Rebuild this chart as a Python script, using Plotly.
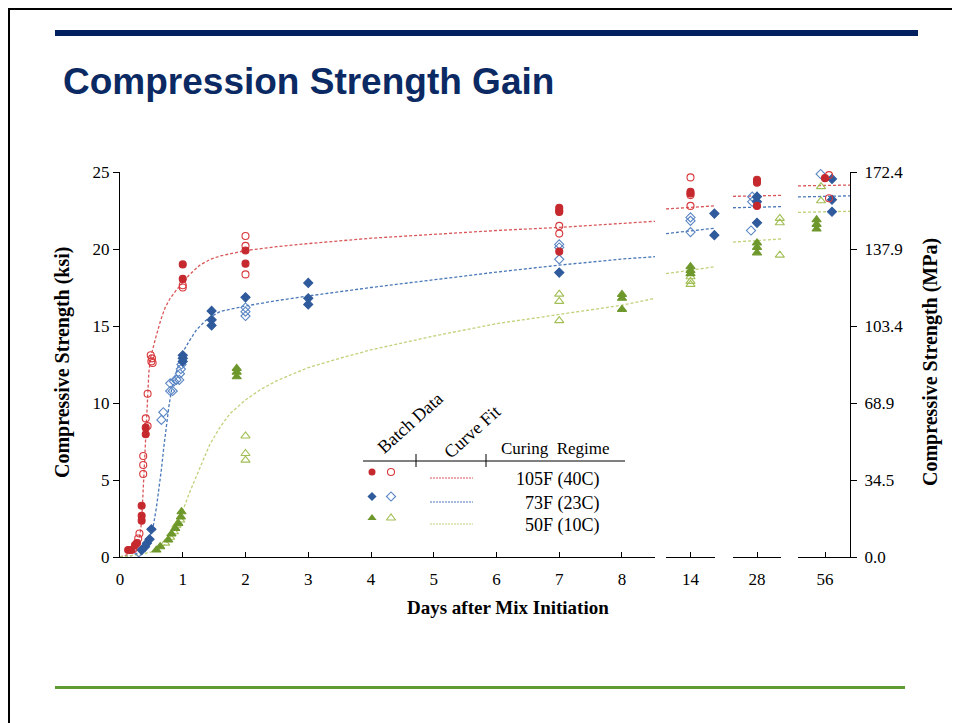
import plotly.graph_objects as go

# ---------------- data (days, ksi) ----------------
red_filled_x = [0.13, 0.18, 0.24, 0.27, 0.345, 0.345, 0.345, 0.41, 0.41, 1.0, 1.0, 2.0, 2.0, 7.0, 7.0, 7.0, 7.0]
red_filled_y = [0.45, 0.45, 0.78, 0.9, 2.36, 2.68, 3.33, 7.97, 8.4, 19.0, 18.06, 19.9, 19.05, 22.68, 22.5, 22.4, 19.83]
red_open_x = [0.21, 0.29, 0.31, 0.37, 0.37, 0.37, 0.44, 0.41, 0.44, 0.49, 0.51, 0.5, 0.52, 1.0, 1.0, 2.0, 2.0, 2.0, 7.0, 7.0]
red_open_y = [0.5, 1.2, 1.53, 5.39, 5.97, 6.56, 8.5, 9.0, 10.6, 13.1, 12.9, 12.7, 12.6, 17.65, 17.5, 20.84, 20.2, 18.35, 21.5, 21.0]

blue_filled_x = [0.345, 0.4, 0.43, 0.47, 0.5, 1.0, 1.0, 1.0, 1.46, 1.46, 1.46, 2.0, 3.0, 3.0, 3.0, 7.0]
blue_filled_y = [0.45, 0.67, 0.9, 1.15, 1.8, 13.1, 12.9, 12.7, 15.98, 15.4, 15.04, 16.86, 17.8, 16.8, 16.4, 18.47]
blue_open_x = [0.3, 0.66, 0.69, 0.80, 0.84, 0.80, 0.86, 0.90, 0.945, 0.955, 0.97, 0.98, 2.0, 2.0, 2.0, 7.0, 7.0, 7.0]
blue_open_y = [0.3, 8.9, 9.4, 10.78, 10.78, 11.28, 11.4, 11.5, 11.5, 11.9, 12.2, 12.5, 16.2, 15.93, 15.65, 20.3, 20.1, 19.33]

green_filled_x = [0.58, 0.64, 0.77, 0.82, 0.88, 0.93, 0.97, 0.98, 1.86, 1.86, 1.86, 8.0, 8.0, 8.0]
green_filled_y = [0.45, 0.67, 1.1, 1.5, 1.86, 2.18, 2.6, 2.94, 12.25, 12.0, 11.7, 17.05, 16.8, 16.08]
green_open_x = [0.72, 0.80, 0.86, 0.90, 0.96, 2.0, 2.0, 2.0, 7.0, 7.0, 7.0]
green_open_y = [0.9, 1.28, 1.64, 2.07, 2.4, 7.86, 6.72, 6.29, 17.07, 16.6, 15.35]

# later ages (broken axis segments)
red_filled_14 = ([14, 14], [23.72, 23.6])
red_open_14 = ([14, 14, 14], [24.65, 23.5, 22.8])
blue_filled_14 = ([17.9, 17.9], [22.3, 20.9])
blue_open_14 = ([14, 14, 14], [22.05, 21.83, 21.1])
green_filled_14 = ([14, 14, 14], [18.85, 18.6, 18.4])
green_open_14 = ([14, 14, 14], [18.2, 17.9, 17.7])

red_filled_28 = ([28, 28, 28], [24.5, 24.3, 22.8])
blue_filled_28 = ([28, 28, 28], [23.4, 23.07, 21.7])
blue_open_28 = ([27.2, 27.2, 27.0], [23.4, 23.07, 21.2])
green_filled_28 = ([28, 28, 28], [20.4, 20.1, 19.75])
green_open_28 = ([31.8, 31.8, 31.8], [21.99, 21.7, 19.6])

red_filled_56 = ([56], [24.6])
red_open_56 = ([57, 57], [24.8, 23.3])
blue_filled_56 = ([57.75, 57.75, 57.75], [24.55, 23.2, 22.42])
blue_open_56 = ([54.9], [24.87])
green_filled_56 = ([53.9, 53.9, 53.9], [21.9, 21.6, 21.3])
green_open_56 = ([55, 55], [24.05, 23.13])

# curve fits
red_fit_x = [0.0, 0.12, 0.24, 0.31, 0.345, 0.36, 0.38, 0.40, 0.43, 0.46, 0.49, 0.53, 0.58, 0.65, 0.72, 0.8, 0.9, 1.0,
             1.1, 1.27, 1.45, 1.6, 1.8, 2.0, 2.5, 3.0, 4.0, 5.0, 6.0, 7.0, 8.0, 8.53]
red_fit_y = [0.0, 0.15, 0.5, 1.2, 2.3, 3.6, 5.4, 7.5, 10.0, 12.0, 13.0, 13.7, 14.4, 15.4, 16.2, 16.8, 17.35, 17.8,
             18.3, 18.95, 19.35, 19.55, 19.75, 19.9, 20.15, 20.35, 20.7, 20.95, 21.2, 21.4, 21.65, 21.8]
blue_fit_x = [0.0, 0.2, 0.3, 0.4, 0.47, 0.53, 0.58, 0.62, 0.66, 0.70, 0.74, 0.78, 0.82, 0.87, 0.93, 1.0, 1.1, 1.22,
              1.35, 1.45, 1.6, 1.8, 2.0, 2.5, 3.0, 4.0, 5.0, 6.0, 7.0, 8.0, 8.53]
blue_fit_y = [0.0, 0.1, 0.3, 0.75, 1.3, 2.0, 3.2, 4.4, 5.7, 7.2, 8.6, 9.8, 10.8, 11.7, 12.4, 13.3, 14.0, 14.75,
              15.3, 15.6, 15.95, 16.15, 16.3, 16.65, 16.95, 17.5, 18.0, 18.5, 18.95, 19.35, 19.5]
green_fit_x = [0.0, 0.3, 0.58, 0.7, 0.77, 0.85, 0.9, 1.0, 1.1, 1.22, 1.33, 1.43, 1.59, 1.75, 2.0, 2.25, 2.5, 3.0,
               3.5, 4.0, 4.5, 5.0, 6.0, 7.0, 8.0, 8.53]
green_fit_y = [0.0, 0.15, 0.4, 0.75, 1.1, 1.6, 2.05, 3.0, 4.1, 5.3, 6.4, 7.3, 8.4, 9.3, 10.2, 10.9, 11.45, 12.3,
               12.9, 13.45, 13.9, 14.35, 15.15, 15.75, 16.35, 16.8]

fit_14 = {"red": ([10, 18], [22.6, 22.8]), "blue": ([10, 18], [21.0, 21.35]), "green": ([10, 18], [18.4, 18.85])}
fit_28 = {"red": ([24, 32], [23.42, 23.48]), "blue": ([24, 32], [22.68, 22.75]), "green": ([24, 32], [20.45, 20.65])}
fit_56 = {"red": ([49.25, 62.25], [24.1, 24.15]), "blue": ([49.25, 62.25], [23.38, 23.45]),
          "green": ([49.25, 62.25], [22.38, 22.45])}

ksi_ticks = [0, 5, 10, 15, 20, 25]
mpa_labels = ["0.0", "34.5", "68.9", "103.4", "137.9", "172.4"]
day_ticks = [0, 1, 2, 3, 4, 5, 6, 7, 8]
regimes = ["105F (40C)", "73F (23C)", "50F (10C)"]

# ---------------- styles ----------------
C = {
    "red": dict(f="#C5292E", o="#D8383C", fit="#D9575A", sym="circle", size=7),
    "blue": dict(f="#2F5A9C", o="#5A86C4", fit="#4A78B8", sym="diamond", size=7),
    "green": dict(f="#6E982C", o="#A2BF55", fit="#BFD27A", sym="triangle-up", size=8),
}
SERIF = "Liberation Serif, Times New Roman, serif"

fig = go.Figure()


def add_pts(x, y, col, filled, xa):
    s = C[col]
    fig.add_trace(go.Scatter(
        x=x, y=y, mode="markers", xaxis=xa, yaxis="y", showlegend=False, hoverinfo="skip", cliponaxis=False,
        marker=dict(symbol=s["sym"] if filled else s["sym"] + "-open", size=s["size"],
                    color=s["f"] if filled else s["o"], line=dict(width=1.1, color=s["f"] if filled else s["o"]))))


def add_fit(x, y, col, xa):
    fig.add_trace(go.Scatter(x=x, y=y, mode="lines", xaxis=xa, yaxis="y", showlegend=False, hoverinfo="skip",
                             line=dict(color=C[col]["fit"], width=1.3, dash="3px,2px")))


add_fit(red_fit_x, red_fit_y, "red", "x")
add_fit(blue_fit_x, blue_fit_y, "blue", "x")
add_fit(green_fit_x, green_fit_y, "green", "x")
for xa, fits in (("x2", fit_14), ("x3", fit_28), ("x4", fit_56)):
    for col, (fx, fy) in fits.items():
        add_fit(fx, fy, col, xa)

add_pts(green_open_x, green_open_y, "green", False, "x")
add_pts(green_filled_x, green_filled_y, "green", True, "x")
add_pts(blue_open_x, blue_open_y, "blue", False, "x")
add_pts(blue_filled_x, blue_filled_y, "blue", True, "x")
add_pts(red_open_x, red_open_y, "red", False, "x")
add_pts(red_filled_x, red_filled_y, "red", True, "x")

seg_pts = [
    ("x2", [("green", False, green_open_14), ("green", True, green_filled_14), ("blue", False, blue_open_14),
            ("blue", True, blue_filled_14), ("red", False, red_open_14), ("red", True, red_filled_14)]),
    ("x3", [("green", False, green_open_28), ("green", True, green_filled_28), ("blue", False, blue_open_28),
            ("blue", True, blue_filled_28), ("red", True, red_filled_28)]),
    ("x4", [("green", False, green_open_56), ("green", True, green_filled_56), ("blue", False, blue_open_56),
            ("blue", True, blue_filled_56), ("red", False, red_open_56), ("red", True, red_filled_56)]),
]
for xa, lst in seg_pts:
    for col, filled, (pxv, pyv) in lst:
        add_pts(pxv, pyv, col, filled, xa)

# helper trace so that the MPa axis is drawn
fig.add_trace(go.Scatter(x=[56], y=[0], xaxis="x4", yaxis="y2", mode="markers",
                         marker=dict(opacity=0), showlegend=False, hoverinfo="skip"))

# ---------------- legend table (pixel-coordinate helper axes) ----------------
leg_rows_y = [472, 496.5, 518]
leg_line_y = [478, 502, 524]
for i, col in enumerate(["red", "blue", "green"]):
    s = C[col]
    fig.add_trace(go.Scatter(x=[372], y=[leg_rows_y[i]], xaxis="x5", yaxis="y3", mode="markers",
                             marker=dict(symbol=s["sym"], size=s["size"], color=s["f"]),
                             showlegend=False, hoverinfo="skip"))
    fig.add_trace(go.Scatter(x=[391], y=[leg_rows_y[i]], xaxis="x5", yaxis="y3", mode="markers",
                             marker=dict(symbol=s["sym"] + "-open", size=s["size"], color=s["o"],
                                         line=dict(width=1.1, color=s["o"])),
                             showlegend=False, hoverinfo="skip"))
    fig.add_trace(go.Scatter(x=[430, 473], y=[leg_line_y[i]] * 2, xaxis="x5", yaxis="y3", mode="lines",
                             line=dict(color=s["fit"], width=1.1, dash="2px,1px"),
                             showlegend=False, hoverinfo="skip"))

# ---------------- layout ----------------
OFF = 8  # page offset of the figure (body margin)
W, H = 960 - OFF, 723 - OFF
L, R, T, B = 120, 850, 172, 557  # plot area in page pixels


def px(xp):
    return (xp - L) / (R - L)


def py(yp):
    return (B - yp) / (B - T)


axis_common = dict(showline=True, linecolor="black", linewidth=1.2, ticks="inside", ticklen=5,
                   tickcolor="black", showgrid=False, zeroline=False, anchor="y",
                   tickfont=dict(family=SERIF, size=17, color="black"), ticklabelstandoff=6, fixedrange=True)

fig.update_layout(
    width=W, height=H, paper_bgcolor="white", plot_bgcolor="rgba(0,0,0,0)",
    margin=dict(l=L - OFF, r=W - (R - OFF), t=T - OFF, b=H - (B - OFF)),
    xaxis=dict(domain=[0, px(655)], range=[0, 8.526], tickvals=day_ticks, **axis_common),
    xaxis2=dict(domain=[px(666), px(715)], range=[10, 18], tickvals=[14], **axis_common),
    xaxis3=dict(domain=[px(733), px(781)], range=[24, 32], tickvals=[28], **axis_common),
    xaxis4=dict(domain=[px(798), 1.0], range=[49.25, 62.25], tickvals=[56], **axis_common),
    yaxis=dict(domain=[0, 1], range=[0, 25], tickvals=ksi_ticks, showline=True, linecolor="black", linewidth=1.2,
               ticks="outside", ticklen=6, tickcolor="black", showgrid=False, zeroline=False, anchor="x",
               tickfont=dict(family=SERIF, size=17, color="black"), fixedrange=True),
    yaxis2=dict(overlaying="y", side="right", anchor="x4", range=[0, 25], tickvals=ksi_ticks, ticktext=mpa_labels,
                showline=True, linecolor="black", linewidth=1.2, ticks="outside", ticklen=6, tickcolor="black",
                showgrid=False, zeroline=False, tickfont=dict(family=SERIF, size=17, color="black"),
                ticklabelstandoff=4, fixedrange=True),
    xaxis5=dict(domain=[0, 1], range=[L, R], visible=False, anchor="y3", fixedrange=True),
    yaxis3=dict(domain=[0, 1], range=[B, T], visible=False, anchor="x5", fixedrange=True),
    showlegend=False,
)

shapes = [
    # slide border
    dict(type="line", xref="paper", yref="paper", x0=px(9), x1=px(9), y0=py(8), y1=py(740),
         line=dict(color="black", width=2)),
    dict(type="line", xref="paper", yref="paper", x0=px(8), x1=px(980), y0=py(9), y1=py(9),
         line=dict(color="black", width=2)),
    # top navy bar
    dict(type="rect", xref="paper", yref="paper", x0=px(55), x1=px(918), y0=py(36), y1=py(30),
         fillcolor="#002060", line=dict(width=0)),
    # bottom green rule
    dict(type="rect", xref="paper", yref="paper", x0=px(55), x1=px(905), y0=py(689), y1=py(686),
         fillcolor="#5E9B32", line=dict(width=0)),
    # legend table rules
    dict(type="line", xref="x5", yref="y3", x0=363, x1=625, y0=461, y1=461, line=dict(color="black", width=1)),
    dict(type="line", xref="x5", yref="y3", x0=416, x1=416, y0=454, y1=467, line=dict(color="black", width=1)),
    dict(type="line", xref="x5", yref="y3", x0=486, x1=486, y0=454, y1=467, line=dict(color="black", width=1)),
]
fig.update_layout(shapes=shapes)

ann = [
    dict(text="<b>Compression Strength Gain</b>", xref="paper", yref="paper", x=px(61), y=py(81), xanchor="left",
         yanchor="middle", showarrow=False, font=dict(family="Liberation Sans, Arial, sans-serif", size=37,
                                                      color="#0B2A63")),
    dict(text="<b>Days after Mix Initiation</b>", xref="paper", yref="paper", x=px(508), y=py(607),
         xanchor="center", yanchor="middle", showarrow=False, font=dict(family=SERIF, size=19, color="black")),
    dict(text="<b>Compressive Strength (ksi)</b>", xref="paper", yref="paper", x=px(62), y=py(362),
         xanchor="center", yanchor="middle", textangle=-90, showarrow=False,
         font=dict(family=SERIF, size=20, color="black")),
    dict(text="<b>Compressive Strength (MPa)</b>", xref="paper", yref="paper", x=px(930), y=py(362),
         xanchor="center", yanchor="middle", textangle=-90, showarrow=False,
         font=dict(family=SERIF, size=20, color="black")),
    dict(text="Batch Data", xref="x5", yref="y3", x=410, y=423, xanchor="center", yanchor="middle",
         textangle=-42, showarrow=False, font=dict(family=SERIF, size=18, color="black")),
    dict(text="Curve Fit", xref="x5", yref="y3", x=472, y=432, xanchor="center", yanchor="middle",
         textangle=-42, showarrow=False, font=dict(family=SERIF, size=18, color="black")),
    dict(text="Curing  Regime", xref="x5", yref="y3", x=555, y=448, xanchor="center", yanchor="middle",
         showarrow=False, font=dict(family=SERIF, size=17, color="black")),
]
for i, lab in enumerate(regimes):
    ann.append(dict(text=lab, xref="x5", yref="y3", x=602, y=leg_line_y[i] + 1, xanchor="right",
                    yanchor="middle", showarrow=False, font=dict(family=SERIF, size=18, color="black")))
fig.update_layout(annotations=ann)

fig.write_html("out.html")
